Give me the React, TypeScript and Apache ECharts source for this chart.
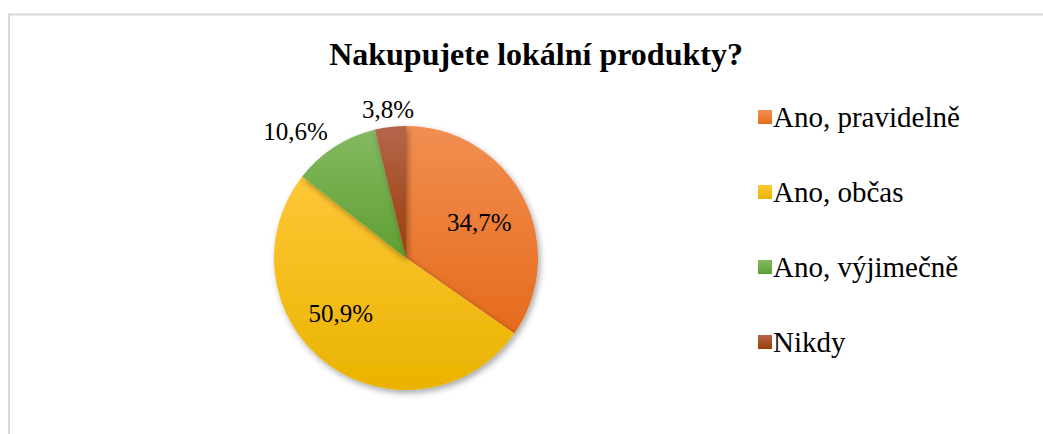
import React, { useEffect, useRef } from "react";
import * as echarts from "echarts";

const title = "Nakupujete lokální produkty?";
const categories = ["Ano, pravidelně", "Ano, občas", "Ano, výjimečně", "Nikdy"];
const values = [34.7, 50.9, 10.6, 3.8];
const topColors = ["#F28E52", "#FFC737", "#84BA62", "#B4664A"];
const bottomColors = ["#E56B1B", "#E9B300", "#5E9E31", "#9C3D08"];
const labelInside = [true, true, false, false];

const SERIF = "Liberation Serif";
const fmt = (p: any) => p.value.toFixed(1).replace(".", ",") + "%";

export default function App() {
  const ref = useRef<HTMLDivElement>(null);
  useEffect(() => {
    if (!ref.current) return;
    const chart = echarts.init(ref.current, null, { renderer: "svg" });
    const mainData = categories.map((name, i) => ({
      name,
      value: values[i],
      itemStyle: {
        color: new echarts.graphic.LinearGradient(0, 0, 0, 1, [
          { offset: 0, color: topColors[i] },
          { offset: 1, color: bottomColors[i] },
        ]),
      },
      label: { show: !labelInside[i] },
    }));
    const labelData = categories.map((name, i) => ({
      name,
      value: values[i],
      label: { show: labelInside[i] },
    }));
    chart.setOption({
      animation: false,
      backgroundColor: "#fff",
      textStyle: { fontFamily: SERIF },
      title: {
        text: title,
        left: 531,
        top: 33,
        textAlign: "center",
        textStyle: { fontFamily: SERIF, fontSize: 32, fontWeight: "bold", color: "#000" },
      },
      legend: {
        orient: "vertical",
        left: 753,
        top: 97,
        itemWidth: 14,
        itemHeight: 14,
        itemGap: 45,
        icon: "rect",
        textStyle: {
          fontFamily: SERIF,
          fontSize: 29,
          lineHeight: 30,
          color: "#000",
          padding: [0, 0, 0, -4],
        },
        data: categories,
      },
      graphic: [
        {
          type: "rect",
          shape: { x: 9, y: 14.5, width: 1200, height: 600 },
          style: { fill: "none", stroke: "#D9D9D9", lineWidth: 2 },
          silent: true,
        },
      ],
      series: [
        {
          type: "pie",
          center: [406, 258],
          radius: [0, 132],
          startAngle: 90,
          clockwise: true,
          data: mainData,
          itemStyle: {
            shadowBlur: 6,
            shadowOffsetX: 2,
            shadowOffsetY: 3,
            shadowColor: "rgba(0,0,0,0.35)",
          },
          label: {
            position: "outside",
            formatter: fmt,
            fontFamily: SERIF,
            fontSize: 25,
            color: "#000",
          },
          labelLine: { show: false, length: 18, length2: 0 },
          labelLayout: (params: any) =>
            params.dataIndex === 3
              ? { align: "center", dx: 5 }
              : params.dataIndex === 2
              ? { dx: 10, dy: -5 }
              : {},
          emphasis: { disabled: true },
        },
        {
          type: "pie",
          center: [406, 258],
          radius: [34, 132],
          startAngle: 90,
          clockwise: true,
          silent: true,
          data: labelData,
          itemStyle: { color: "rgba(0,0,0,0)" },
          label: {
            position: "inside",
            formatter: fmt,
            fontFamily: SERIF,
            fontSize: 25,
            color: "#000",
          },
          labelLine: { show: false },
          labelLayout: (params: any) =>
            params.dataIndex === 1
              ? { dx: -14, dy: -14 }
              : params.dataIndex === 0
              ? { dx: -3, dy: 4 }
              : {},
          emphasis: { disabled: true },
        },
      ],
    });
    return () => chart.dispose();
  }, []);
  return (
    <div
      ref={ref}
      style={{ position: "fixed", left: 0, top: 0, width: 1043, height: 434 }}
    />
  );
}
